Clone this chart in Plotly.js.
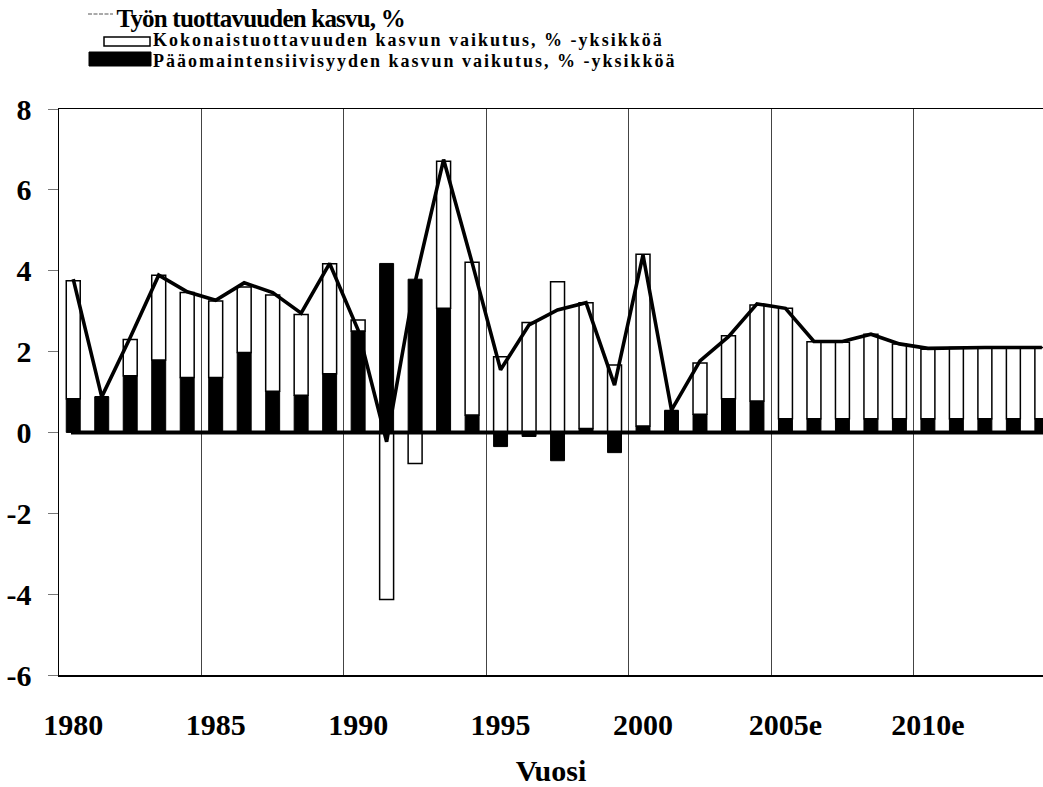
<!DOCTYPE html>
<html>
<head>
<meta charset="utf-8">
<script src="https://cdn.plot.ly/plotly-3.0.1.min.js"></script>
<style>
  html, body { margin: 0; padding: 0; background: #fff; }
  #chart { width: 1043px; height: 787px; }
  .annotation[data-index="0"] text { letter-spacing: -0.8px; }
  .annotation[data-index="1"] text, .annotation[data-index="2"] text { letter-spacing: 2px; }
</style>
</head>
<body>
<div id="chart"></div>
<script>
// ---- Data ----
const years = [1980, 1981, 1982, 1983, 1984, 1985, 1986, 1987, 1988, 1989,
               1990, 1991, 1992, 1993, 1994, 1995, 1996, 1997, 1998, 1999,
               2000, 2001, 2002, 2003, 2004, 2005, 2006, 2007, 2008, 2009,
               2010, 2011, 2012, 2013, 2014];

// Pääomaintensiivisyyden kasvun vaikutus, %-yksikköä (black bars)
const paaomaintensiivisyys = [0.83, 0.88, 1.40, 1.79, 1.36, 1.36, 1.98, 1.02, 0.92, 1.45,
                              2.51, 4.18, 3.79, 3.07, 0.43, -0.35, -0.10, -0.70, 0.10, -0.50,
                              0.16, 0.54, 0.45, 0.83, 0.78, 0.34, 0.34, 0.34, 0.34, 0.34,
                              0.34, 0.34, 0.34, 0.34, 0.34];

// Kokonaistuottavuuden kasvun vaikutus, %-yksikköä (white bars)
const kokonaistuottavuus = [2.92, 0.00, 0.90, 2.10, 2.10, 1.89, 1.62, 2.38, 2.00, 2.72,
                            0.27, -4.13, -0.77, 3.64, 3.78, 1.87, 2.72, 3.73, 3.11, 1.67,
                            4.25, 0.00, 1.27, 1.56, 2.37, 2.73, 1.90, 1.89, 2.09, 1.85,
                            1.72, 1.76, 1.76, 1.76, 1.76];

// Työn tuottavuuden kasvu, % (line)
const tyonTuottavuus = [3.79, 0.88, 2.35, 3.89, 3.48, 3.27, 3.70, 3.46, 2.95, 4.18,
                        2.53, -0.23, 3.72, 6.75, 4.20, 1.55, 2.66, 3.03, 3.21, 1.17,
                        4.39, 0.55, 1.77, 2.37, 3.18, 3.07, 2.25, 2.25, 2.43, 2.19,
                        2.08, 2.10, 2.10, 2.10, 2.10];

const xTickVals = [1980, 1985, 1990, 1995, 2000, 2005, 2010];
const xTickText = ['1980', '1985', '1990', '1995', '2000', '2005e', '2010e'];
const xGridVals = [1984.5, 1989.5, 1994.5, 1999.5, 2004.5, 2009.5];
const yTickVals = [8, 6, 4, 2, 0, -2, -4, -6];
const yTickText = ['8', '6', '4', '2', '0', '-2', '-4', '-6'];

const legendTexts = {
  line: 'Työn tuottavuuden kasvu, %',
  white: 'Kokonaistuottavuuden kasvun vaikutus, % -yksikköä',
  black: 'Pääomaintensiivisyyden kasvun vaikutus, % -yksikköä'
};

// ---- Layout helpers ----
const W = 1043, H = 787;
const M = { l: 59, r: 0, t: 109, b: 112 };
const pw = W - M.l - M.r, ph = H - M.t - M.b;
const px = x => (x - M.l) / pw;
const py = y => (H - M.b - y) / ph;
const FONT = 'Liberation Serif, Times New Roman, serif';

const traces = [
  {
    type: 'bar', name: legendTexts.black, x: years, y: paaomaintensiivisyys,
    marker: { color: '#000', line: { color: '#000', width: 1 } },
    hoverinfo: 'x+y'
  },
  {
    type: 'bar', name: legendTexts.white, x: years, y: kokonaistuottavuus,
    marker: { color: '#fff', line: { color: '#000', width: 1.5 } },
    hoverinfo: 'x+y'
  },
  {
    type: 'scatter', mode: 'lines', name: legendTexts.line, x: years, y: tyonTuottavuus,
    line: { color: '#000', width: 3.6 },
    cliponaxis: true
  }
];

const layout = {
  width: W, height: H,
  margin: { l: M.l, r: M.r, t: M.t, b: M.b, pad: 0 },
  paper_bgcolor: '#fff', plot_bgcolor: '#fff',
  barmode: 'relative', bargap: 0.51,
  showlegend: false,
  xaxis: {
    range: [1979.5, 2014.04],
    tickmode: 'array', tickvals: xTickVals, ticktext: xTickText,
    ticks: '', showgrid: false, zeroline: false,
    showline: true, linecolor: '#000', linewidth: 1.5, mirror: true,
    minor: { tickmode: 'array', tickvals: xGridVals, showgrid: true, gridcolor: '#444', gridwidth: 1, ticks: '' },
    tickfont: { family: FONT, size: 30, color: '#000', weight: 'bold' },
    ticklabelstandoff: 22,
    title: { text: 'Vuosi', font: { family: FONT, size: 30, color: '#000', weight: 'bold' }, standoff: 20 }
  },
  yaxis: {
    range: [-6, 8],
    tickmode: 'array', tickvals: yTickVals, ticktext: yTickText,
    ticks: 'outside', ticklen: 10, tickcolor: '#777', tickwidth: 1,
    showgrid: false, zeroline: false,
    showline: true, linecolor: '#000', linewidth: 1.5,
    tickfont: { family: FONT, size: 30, color: '#000', weight: 'bold' },
    ticklabelstandoff: 10
  },
  shapes: [
    // thick category axis line at zero
    { type: 'line', xref: 'paper', yref: 'y', x0: px(71), x1: 1, y0: 0, y1: 0,
      line: { color: '#000', width: 4 }, layer: 'above' },
    // legend symbols
    { type: 'line', xref: 'paper', yref: 'paper', x0: px(88), x1: px(113), y0: py(14), y1: py(14),
      line: { color: '#555', width: 1, dash: '4px,1.5px' } },
    { type: 'rect', xref: 'paper', yref: 'paper', x0: px(104), x1: px(150), y0: py(37), y1: py(46),
      line: { color: '#000', width: 1.5 }, fillcolor: '#fff' },
    { type: 'rect', xref: 'paper', yref: 'paper', x0: px(89), x1: px(151), y0: py(52), y1: py(66),
      line: { color: '#000', width: 1 }, fillcolor: '#000' }
  ],
  annotations: [
    // x positions compensate for the CSS letter-spacing, which widens the text about its centre
    { xref: 'paper', yref: 'paper', x: px(104), y: py(19), xanchor: 'left', yanchor: 'middle',
      text: legendTexts.line, showarrow: false,
      font: { family: FONT, size: 25, color: '#000', weight: 'bold' } },
    { xref: 'paper', yref: 'paper', x: px(200), y: py(40), xanchor: 'left', yanchor: 'middle',
      text: legendTexts.white, showarrow: false,
      font: { family: FONT, size: 18, color: '#000', weight: 'bold' } },
    { xref: 'paper', yref: 'paper', x: px(202), y: py(60.5), xanchor: 'left', yanchor: 'middle',
      text: legendTexts.black, showarrow: false,
      font: { family: FONT, size: 18, color: '#000', weight: 'bold' } }
  ]
};

Plotly.newPlot('chart', traces, layout, { displayModeBar: false, staticPlot: true });
</script>
</body>
</html>
